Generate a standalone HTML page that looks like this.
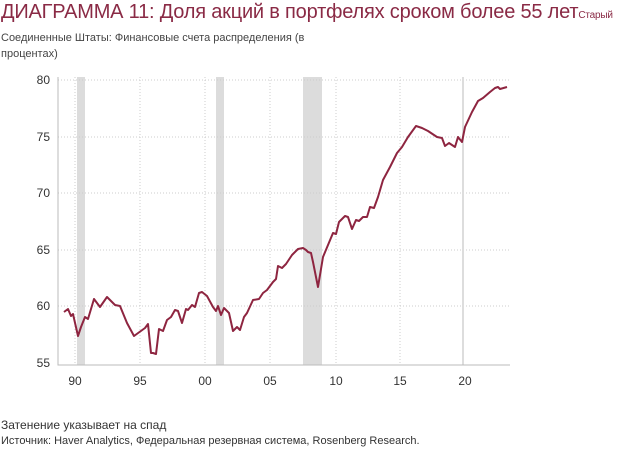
<!DOCTYPE html>
<html><head><meta charset="utf-8"><style>
body{margin:0;width:626px;height:454px;background:#fff;font-family:"Liberation Sans",sans-serif;overflow:hidden;position:relative}
.t{position:absolute;left:1px;top:1px;font-size:20px;color:#8a2a45;white-space:nowrap;letter-spacing:-0.2px}
.t small{font-size:10px;color:#8a2a45}
.s{position:absolute;left:1px;top:30px;font-size:11px;color:#444;line-height:16px}
.f{position:absolute;left:1px;font-size:11px;color:#333}
</style></head><body>
<div class="t">ДИАГРАММА 11: Доля акций в портфелях сроком более 55 лет<small>Старый</small></div>
<div class="s">Соединенные Штаты: Финансовые счета распределения (в<br>процентах)</div>
<svg width="626" height="454" style="position:absolute;left:0;top:0" font-family="Liberation Sans" font-size="12" fill="#333">
<g fill="#dcdcdc"><rect x="77" y="77" width="8" height="288"/><rect x="216" y="77" width="8" height="288"/><rect x="303" y="77" width="19" height="288"/></g>
<g stroke="#ccc" stroke-dasharray="1,2" stroke-width="1">
<line x1="58" x2="510" y1="80" y2="80"/><line x1="58" x2="510" y1="137" y2="137"/><line x1="58" x2="510" y1="193" y2="193"/><line x1="58" x2="510" y1="250" y2="250"/><line x1="58" x2="510" y1="306" y2="306"/>
<line x1="75" x2="75" y1="77" y2="365"/><line x1="140" x2="140" y1="77" y2="365"/><line x1="205" x2="205" y1="77" y2="365"/><line x1="270" x2="270" y1="77" y2="365"/><line x1="336" x2="336" y1="77" y2="365"/><line x1="400" x2="400" y1="77" y2="365"/></g>
<line x1="463" x2="463" y1="77" y2="365" stroke="#ddd" stroke-width="2"/>
<path d="M58 77V365H510" fill="none" stroke="#bbb"/>
<g text-anchor="end"><text x="50" y="84">80</text><text x="50" y="141">75</text><text x="50" y="197">70</text><text x="50" y="254">65</text><text x="50" y="310">60</text><text x="50" y="367">55</text></g>
<g text-anchor="middle"><text x="75" y="385">90</text><text x="140" y="385">95</text><text x="205" y="385">00</text><text x="270" y="385">05</text><text x="336" y="385">10</text><text x="400" y="385">15</text><text x="465" y="385">20</text></g>
<polyline fill="none" stroke="#8e2540" stroke-width="2" stroke-linejoin="round" points="64,312 68,309 71,316 73,314 78,336 81,327 85,317 88,319 94,299 100,307 107,297 115,305 120,306 127,323 134,336 145,328 148,324 151,353 153,353 156,354 159,329 163,331 167,320 171,317 175,310 178,311 182,323 186,309 188,310 192,305 195,307 199,293 202,292 207,296 213,307 216,311 218,306 221,315 224,308 229,313 233,331 237,327 240,330 244,317 247,313 253,300 259,299 263,293 267,290 273,282 276,279 278,266 282,268 286,264 292,255 298,249 303,248 306,250 308,252 311,253 313,262 318,287 323,257 328,245 333,233 336,234 339,222 345,216 348,217 352,229 356,220 359,221 363,217 367,217 370,207 374,208 378,197 383,180 390,167 397,153 402,147 408,137 416,126 422,128 428,131 437,137 442,138 445,146 449,143 455,147 458,137 462,142 465,127 472,112 478,101 483,98 490,92 495,88 498,87 500,89 507,87"/>
</svg>
<div class="f" style="top:418px;font-size:12px">Затенение указывает на спад</div>
<div class="f" style="top:435px">Источник: Haver Analytics, Федеральная резервная система, Rosenberg Research.</div>
</body></html>
